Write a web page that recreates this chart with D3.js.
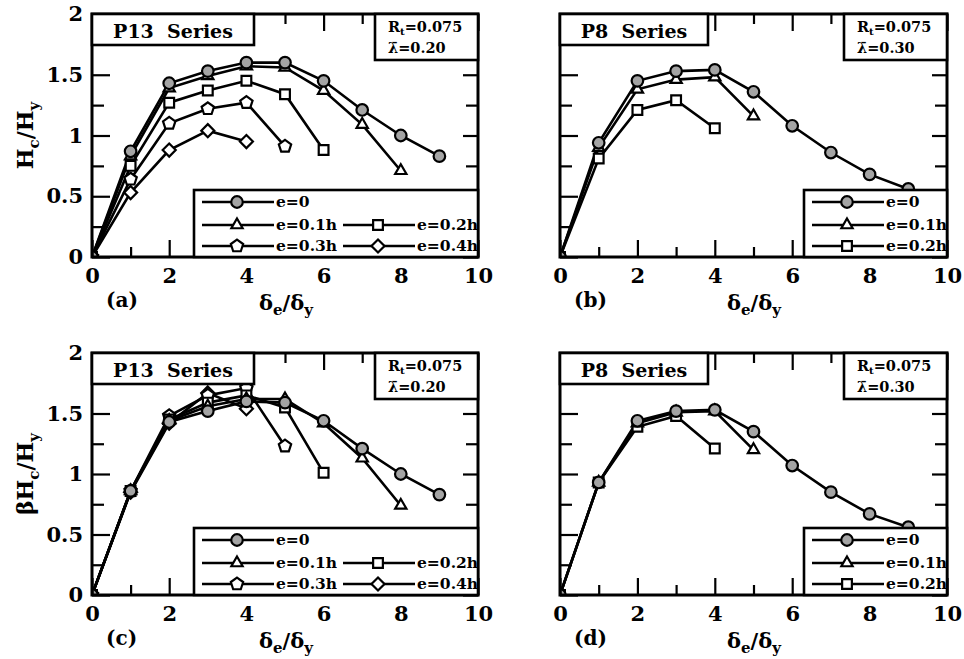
<!DOCTYPE html>
<html>
<head>
<meta charset="utf-8">
<script src="https://cdn.jsdelivr.net/npm/d3@7"></script>
<style>
  body { margin: 0; background: #fff; }
  text { font-family: "DejaVu Serif", serif; font-weight: bold; }
</style>
</head>
<body>
<div id="chart"></div>
<script>
// ductility steps (delta_e / delta_y)
const steps = [0, 1, 2, 3, 4, 5, 6, 7, 8, 9];
const eLabels = ["e=0", "e=0.1h", "e=0.2h", "e=0.3h", "e=0.4h"];

const xMajor = [0, 2, 4, 6, 8, 10];
const xMinor = [1, 3, 5, 7, 9];
const yMajor = [0, 0.5, 1, 1.5, 2];
const yMinor = [0.25, 0.75, 1.25, 1.75];

// (a) P13 series, Hc/Hy
const p13H_e0  = [0, 0.87, 1.43, 1.53, 1.60, 1.60, 1.45, 1.21, 1.00, 0.83];
const p13H_e01 = [0, 0.83, 1.39, 1.49, 1.57, 1.56, 1.37, 1.09, 0.71];
const p13H_e02 = [0, 0.75, 1.27, 1.37, 1.45, 1.34, 0.88];
const p13H_e03 = [0, 0.64, 1.10, 1.22, 1.27, 0.91];
const p13H_e04 = [0, 0.53, 0.88, 1.04, 0.95];

// (b) P8 series, Hc/Hy
const p8H_e0  = [0, 0.94, 1.45, 1.53, 1.54, 1.36, 1.08, 0.86, 0.68, 0.56];
const p8H_e01 = [0, 0.90, 1.38, 1.46, 1.48, 1.16];
const p8H_e02 = [0, 0.81, 1.21, 1.29, 1.06];

// (c) P13 series, beta*Hc/Hy
const p13B_e0  = [0, 0.86, 1.43, 1.52, 1.60, 1.59, 1.44, 1.21, 1.00, 0.83];
const p13B_e01 = [0, 0.86, 1.44, 1.56, 1.62, 1.62, 1.42, 1.13, 0.74];
const p13B_e02 = [0, 0.86, 1.45, 1.59, 1.65, 1.55, 1.01];
const p13B_e03 = [0, 0.86, 1.48, 1.65, 1.71, 1.23];
const p13B_e04 = [0, 0.85, 1.42, 1.67, 1.54];

// (d) P8 series, beta*Hc/Hy
const p8B_e0  = [0, 0.93, 1.44, 1.52, 1.53, 1.35, 1.07, 0.85, 0.67, 0.56];
const p8B_e01 = [0, 0.93, 1.42, 1.51, 1.52, 1.20];
const p8B_e02 = [0, 0.93, 1.39, 1.48, 1.21];

// custom marker shapes
const symbolPentagon = {
  draw(ctx, size) {
    let r = Math.sqrt(size / 2.378);
    for (let k = 0; k < 5; k++) {
      let a = -Math.PI / 2 + k * 2 * Math.PI / 5;
      if (k === 0) ctx.moveTo(r * Math.cos(a), r * Math.sin(a));
      else ctx.lineTo(r * Math.cos(a), r * Math.sin(a));
    }
    ctx.closePath();
  }
};
const symbolRhomb = {
  draw(ctx, size) {
    let r = Math.sqrt(size / 2);
    ctx.moveTo(0, -r); ctx.lineTo(r, 0); ctx.lineTo(0, r); ctx.lineTo(-r, 0);
    ctx.closePath();
  }
};

const markers = [
  { type: d3.symbolCircle, size: 105, fill: "#a4a4a4" },
  { type: d3.symbolTriangle, size: 55, fill: "#fff" },
  { type: d3.symbolSquare, size: 95, fill: "#fff" },
  { type: symbolPentagon, size: 100, fill: "#fff" },
  { type: symbolRhomb, size: 85, fill: "#fff" }
];

const legendP13 = [
  { s: 0, row: 0, col: 0 }, { s: 1, row: 1, col: 0 }, { s: 2, row: 1, col: 1 },
  { s: 3, row: 2, col: 0 }, { s: 4, row: 2, col: 1 }
];
const legendP8 = [{ s: 0, row: 0, col: 0 }, { s: 1, row: 1, col: 0 }, { s: 2, row: 2, col: 0 }];

const panels = [
  { id: "a", left: 92, top: 14, w: 386, h: 243, series: [p13H_e0, p13H_e01, p13H_e02, p13H_e03, p13H_e04],
    yLab: ["", "H", "c", "/H", "y"], showY: true, title: "P13  Series", titleW: 162, lam: "0.20",
    legendLeft: 102, legend: legendP13 },
  { id: "b", left: 560, top: 14, w: 387, h: 243, series: [p8H_e0, p8H_e01, p8H_e02],
    yLab: null, showY: false, title: "P8  Series", titleW: 148, lam: "0.30",
    legendLeft: 244, legend: legendP8 },
  { id: "c", left: 92, top: 353, w: 386, h: 242, series: [p13B_e0, p13B_e01, p13B_e02, p13B_e03, p13B_e04],
    yLab: ["β", "H", "c", "/H", "y"], showY: true, title: "P13  Series", titleW: 162, lam: "0.20",
    legendLeft: 102, legend: legendP13 },
  { id: "d", left: 560, top: 353, w: 387, h: 242, series: [p8B_e0, p8B_e01, p8B_e02],
    yLab: null, showY: false, title: "P8  Series", titleW: 148, lam: "0.30",
    legendLeft: 244, legend: legendP8 }
];

const svg = d3.select("#chart").append("svg")
  .attr("width", 964)
  .attr("height", 659);

panels.forEach(drawPanel);

function drawPanel(p) {
  let x = d3.scaleLinear().domain([0, 10]).range([p.left, p.left + p.w]);
  let y = d3.scaleLinear().domain([0, 2]).range([p.top + p.h, p.top]);
  let g = svg.append("g");

  g.append("clipPath").attr("id", "clip-" + p.id)
    .append("rect")
    .attr("x", p.left).attr("y", p.top).attr("width", p.w).attr("height", p.h);

  let plot = g.append("g").attr("clip-path", "url(#clip-" + p.id + ")");

  let line = d3.line()
    .x(function(d, i) { return x(steps[i]); })
    .y(function(d) { return y(d); });

  // draw lowest series first so e=0 sits on top
  let order = p.series.map(function(d, i) { return i; }).reverse();
  order.forEach(function(si) {
    plot.append("path")
      .datum(p.series[si])
      .attr("d", line)
      .attr("fill", "none")
      .attr("stroke", "#000")
      .attr("stroke-width", 2.6);
  });
  order.forEach(function(si) {
    let m = markers[si];
    plot.selectAll(".m" + si)
      .data(p.series[si])
      .enter()
      .append("path")
      .attr("transform", function(d, i) { return "translate(" + x(steps[i]) + "," + y(d) + ")"; })
      .attr("d", d3.symbol().type(m.type).size(m.size))
      .attr("fill", m.fill)
      .attr("stroke", "#000")
      .attr("stroke-width", 2.2);
  });

  // inward ticks
  let bottomMajor = g.append("g")
    .attr("transform", "translate(0," + (p.top + p.h) + ")")
    .call(d3.axisBottom(x).tickValues(xMajor).tickSize(-17).tickPadding(11).tickFormat(d3.format("d")));
  g.append("g")
    .attr("transform", "translate(0," + (p.top + p.h) + ")")
    .call(d3.axisBottom(x).tickValues(xMinor).tickSize(-10).tickFormat(""));
  g.append("g")
    .attr("transform", "translate(0," + p.top + ")")
    .call(d3.axisTop(x).tickValues(xMajor).tickSize(-17).tickFormat(""));
  g.append("g")
    .attr("transform", "translate(0," + p.top + ")")
    .call(d3.axisTop(x).tickValues(xMinor).tickSize(-10).tickFormat(""));
  let leftMajor = g.append("g")
    .attr("transform", "translate(" + p.left + ",0)")
    .call(d3.axisLeft(y).tickValues(yMajor).tickSize(-18).tickPadding(9)
      .tickFormat(p.showY ? d3.format("") : ""));
  g.append("g")
    .attr("transform", "translate(" + p.left + ",0)")
    .call(d3.axisLeft(y).tickValues(yMinor).tickSize(-12).tickFormat(""));
  g.append("g")
    .attr("transform", "translate(" + (p.left + p.w) + ",0)")
    .call(d3.axisRight(y).tickValues(yMajor).tickSize(-15).tickFormat(""));
  g.append("g")
    .attr("transform", "translate(" + (p.left + p.w) + ",0)")
    .call(d3.axisRight(y).tickValues(yMinor).tickSize(-12).tickFormat(""));

  g.selectAll(".domain").remove();
  g.selectAll(".tick line").attr("stroke", "#000").attr("stroke-width", 2.2);
  bottomMajor.selectAll("text")
    .attr("fill", "#000")
    .style("font-family", "DejaVu Serif")
    .style("font-weight", "bold")
    .style("font-size", "21px");
  leftMajor.selectAll("text")
    .attr("fill", "#000")
    .style("font-family", "DejaVu Serif")
    .style("font-weight", "bold")
    .style("font-size", "21px");

  // frame
  g.append("rect")
    .attr("x", p.left).attr("y", p.top).attr("width", p.w).attr("height", p.h)
    .attr("fill", "none").attr("stroke", "#000").attr("stroke-width", 3);

  // series title box
  g.append("rect")
    .attr("x", p.left).attr("y", p.top).attr("width", p.titleW).attr("height", 31)
    .attr("fill", "#fff").attr("stroke", "#000").attr("stroke-width", 2.6);
  g.append("text")
    .attr("x", p.left + p.titleW / 2).attr("y", p.top + 24)
    .attr("text-anchor", "middle")
    .style("font-size", "19px")
    .style("white-space", "pre")
    .attr("xml:space", "preserve")
    .text(p.title);

  // parameter box
  let bw = 103;
  let box = g.append("g").attr("transform", "translate(" + (p.left + p.w - bw) + "," + p.top + ")");
  box.append("rect")
    .attr("width", bw).attr("height", 46)
    .attr("fill", "#fff").attr("stroke", "#000").attr("stroke-width", 2.6);
  let t1 = box.append("text").attr("x", 13).attr("y", 18).style("font-size", "14.5px");
  t1.append("tspan").text("R");
  t1.append("tspan").attr("dy", 3).style("font-size", "10px").text("t");
  t1.append("tspan").attr("dy", -3).text("=0.075");
  box.append("text").attr("x", 13).attr("y", 39).style("font-size", "14.5px")
    .text("λ\u0304=" + p.lam);

  // legend
  let lg = g.append("g").attr("transform", "translate(" + (p.left + p.legendLeft) + "," + (p.top + p.h - 67) + ")");
  lg.append("rect")
    .attr("width", p.w - p.legendLeft).attr("height", 67)
    .attr("fill", "#fff").attr("stroke", "#000").attr("stroke-width", 2.6);
  let rowY = [12, 35, 56];
  let colX = [8, 149];
  p.legend.forEach(function(item) {
    let lx = colX[item.col];
    let ly = rowY[item.row];
    let m = markers[item.s];
    lg.append("line")
      .attr("x1", lx).attr("x2", lx + 72).attr("y1", ly).attr("y2", ly)
      .attr("stroke", "#000").attr("stroke-width", 2.6);
    lg.append("path")
      .attr("transform", "translate(" + (lx + 35) + "," + ly + ")")
      .attr("d", d3.symbol().type(m.type).size(m.size))
      .attr("fill", m.fill).attr("stroke", "#000").attr("stroke-width", 2.2);
    lg.append("text")
      .attr("x", lx + 74).attr("y", ly + 5)
      .style("font-size", "15.5px")
      .text(eLabels[item.s]);
  });

  // x axis title
  let xt = g.append("text")
    .attr("x", p.left + 194).attr("y", p.top + p.h + 53)
    .attr("text-anchor", "middle")
    .style("font-size", "21px");
  xt.append("tspan").text("δ");
  xt.append("tspan").attr("dy", 5).style("font-size", "15px").text("e");
  xt.append("tspan").attr("dy", -5).text("/δ");
  xt.append("tspan").attr("dy", 5).style("font-size", "15px").text("y");

  // panel letter
  g.append("text")
    .attr("x", p.left + 14).attr("y", p.top + p.h + 50)
    .style("font-size", "20px")
    .text("(" + p.id + ")");

  // y axis title
  if (p.yLab) {
    let yt = g.append("text")
      .attr("transform", "translate(33," + (p.top + p.h / 2) + ") rotate(-90)")
      .attr("text-anchor", "middle")
      .style("font-size", "22px");
    yt.append("tspan").text(p.yLab[0] + p.yLab[1]);
    yt.append("tspan").attr("dy", 6).style("font-size", "15px").text(p.yLab[2]);
    yt.append("tspan").attr("dy", -6).text(p.yLab[3]);
    yt.append("tspan").attr("dy", 6).style("font-size", "15px").text(p.yLab[4]);
  }
}
</script>
</body>
</html>
